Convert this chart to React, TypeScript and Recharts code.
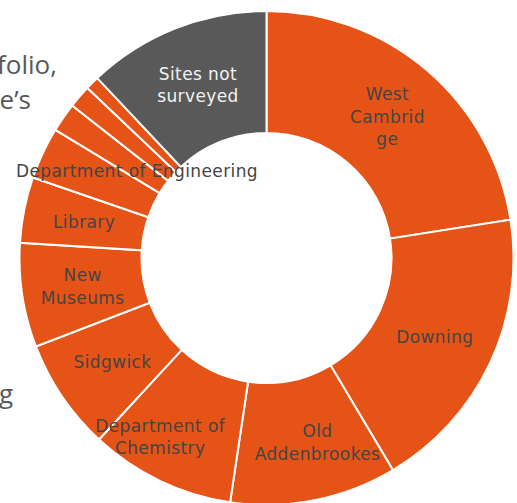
import React from 'react';
import { PieChart, Pie, Cell } from 'recharts';

// Share of portfolio (percent of the whole ring), ordered clockwise from 12 o'clock
const categories = [
  'West Cambridge',
  'Downing',
  'Old Addenbrookes',
  'Department of Chemistry',
  'Sidgwick',
  'New Museums',
  'Library',
  'Department of Engineering',
  'Other site A',
  'Other site B',
  'Other site C',
  'Sites not surveyed',
];
const shares = [22.5, 18.9, 10.9, 9.5, 7.3, 6.8, 4.3, 3.4, 1.9, 1.5, 0.9, 12.0];
// Text drawn inside each slice (line by line); empty = no label shown
const labelLines: string[][] = [
  ['West', 'Cambrid', 'ge'],
  ['Downing'],
  ['Old', 'Addenbrookes'],
  ['Department of', 'Chemistry'],
  ['Sidgwick'],
  ['New', 'Museums'],
  ['Library'],
  ['Department of Engineering'],
  [],
  [],
  [],
  ['Sites not', 'surveyed'],
];
const notSurveyed = 'Sites not surveyed';
// Fragments of slide text visible behind the chart
const slideFragments = ['folio,', 'e\u2019s', 'g'];

const data = categories.map((name, i) => ({ name, value: shares[i] }));

// ---- layout / style ----
const W = 517;
const H = 503;
const ORANGE = '#E55316';
const GREY = '#595959';
const LABEL_FONT = 'DejaVu Sans, sans-serif';
const LABEL_SIZE = 17;
const LETTER_SP = 0.4;
const LINE_H = 22.5;
const RAD = Math.PI / 180;
// small manual label nudges (as the original labels were moved by hand)
const labelNudge: Record<string, [number, number]> = {
  'Old Addenbrookes': [15, 2],
  'Department of Chemistry': [-26, 11],
  'Department of Engineering': [0, -8],
};

let ctx: CanvasRenderingContext2D | null = null;
function measure(t: string): number {
  if (!ctx) {
    const c = document.createElement('canvas');
    ctx = c.getContext('2d');
  }
  if (!ctx) return t.length * LABEL_SIZE * 0.6;
  ctx.font = `${LABEL_SIZE}px "DejaVu Sans"`;
  return ctx.measureText(t).width + t.length * LETTER_SP;
}

function renderLabel(props: any) {
  const { cx, cy, midAngle, innerRadius, outerRadius } = props;
  const idx = typeof props.index === 'number' ? props.index : categories.indexOf(props.name);
  const lines = labelLines[idx] || [];
  if (!lines.length) return null;
  const r = (innerRadius + outerRadius) / 2;
  let x = cx + r * Math.cos(-midAngle * RAD);
  let y = cy + r * Math.sin(-midAngle * RAD);
  const nudge = labelNudge[categories[idx]];
  if (nudge) {
    x += nudge[0];
    y += nudge[1];
  }
  const w = Math.max(...lines.map(measure));
  const minX = 16 + w / 2;
  const maxX = W - 4 - w / 2;
  if (x < minX) x = minX;
  if (x > maxX) x = maxX;
  const y0 = y - ((lines.length - 1) * LINE_H) / 2;
  const fill = categories[idx] === notSurveyed ? '#F2F2F2' : '#454545';
  return (
    <text
      key={`lbl-${idx}`}
      x={x}
      y={y0}
      textAnchor="middle"
      dominantBaseline="central"
      fill={fill}
      fontFamily={LABEL_FONT}
      fontSize={LABEL_SIZE}
      letterSpacing={LETTER_SP}
    >
      {lines.map((l, i) => (
        <tspan key={i} x={x} dy={i === 0 ? 0 : LINE_H}>
          {l}
        </tspan>
      ))}
    </text>
  );
}

export default function App() {
  return (
    <div style={{ position: 'absolute', left: 0, top: 0, width: W, height: H, background: '#fff', overflow: 'hidden' }}>
      <svg width={W} height={H} style={{ position: 'absolute', left: 0, top: 0 }}>
        <g fontFamily="Open Sans, sans-serif" fontSize={26} fill="#595959">
          <text x={57} y={74} textAnchor="end">{slideFragments[0]}</text>
          <text x={31} y={109} textAnchor="end">{slideFragments[1]}</text>
          <text x={13} y={403} textAnchor="end">{slideFragments[2]}</text>
        </g>
      </svg>
      <div style={{ position: 'absolute', left: 0, top: 0 }}>
        <PieChart width={W} height={H} margin={{ top: 0, right: 0, bottom: 0, left: 0 }}>
          <Pie
            data={data}
            dataKey="value"
            nameKey="name"
            cx={266.5}
            cy={258}
            innerRadius={125}
            outerRadius={247}
            startAngle={90}
            endAngle={-270}
            stroke="#ffffff"
            strokeWidth={2}
            label={renderLabel}
            labelLine={false}
            isAnimationActive={false}
          >
            {data.map((d, i) => (
              <Cell key={i} fill={d.name === notSurveyed ? GREY : ORANGE} />
            ))}
          </Pie>
        </PieChart>
      </div>
    </div>
  );
}
